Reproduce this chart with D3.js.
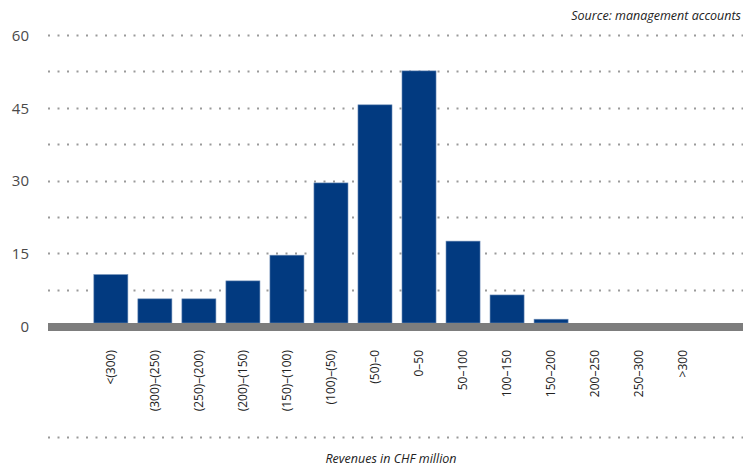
<!DOCTYPE html>
<html><head><meta charset="utf-8">
<script src="https://cdn.jsdelivr.net/npm/d3@7"></script>
<style>
body{margin:0;background:#fff;}
svg{display:block;}
</style></head>
<body>
<svg id="c" width="743" height="471"></svg>
<script>
const categories = ["<(300)","(300)–(250)","(250)–(200)","(200)–(150)","(150)–(100)","(100)–(50)","(50)–0","0–50","50–100","100–150","150–200","200–250","250–300",">300"];
const values = [10.6, 5.6, 5.6, 9.3, 14.6, 29.5, 45.6, 52.6, 17.5, 6.4, 1.4, 0, 0, 0];
const yTicks = [0, 15, 30, 45, 60];
const gridTicks = [7.5, 15, 22.5, 30, 37.5, 45, 52.5, 60];

const svg = d3.select("#c");
const font = "'Liberation Sans Narrow','Open Sans',sans-serif";

const x = d3.scaleBand().domain(categories).range([89, 705]).paddingInner(0.227).paddingOuter(0.11);
const y = d3.scaleLinear().domain([0, 60]).range([326, 35]);

// dotted gridlines
const dotted = (yy) => svg.append("line").attr("x1", 48).attr("x2", 743).attr("y1", yy).attr("y2", yy)
  .attr("stroke", "#9a9a9a").attr("stroke-width", 2).attr("stroke-dasharray", "2,7.5");
gridTicks.forEach(t => dotted(Math.round(y(t)) + 0.5));
dotted(437.5);

// bars
svg.selectAll("rect.bar").data(values).join("rect").attr("class", "bar")
  .attr("x", (d, i) => x(categories[i]))
  .attr("width", x.bandwidth())
  .attr("y", d => y(d))
  .attr("height", d => Math.max(0, y(0) - 3 - y(d)))
  .attr("fill", "#023a80")
  .attr("stroke", "#6d8cb6").attr("stroke-width", d => d > 0 ? 0.6 : 0);

// baseline
svg.append("rect").attr("x", 48).attr("width", 695).attr("y", y(0) - 3).attr("height", 8).attr("fill", "#7d7d7d");

// y labels
const yAxis = d3.axisLeft(y).tickValues(yTicks).tickSize(0).tickPadding(0).tickFormat(d3.format("d"));
const ya = svg.append("g").attr("transform", "translate(29,0)").call(yAxis);
ya.select(".domain").remove();
ya.selectAll("text").attr("font-family", font).attr("font-size", 15).attr("fill", "#4a4a4a").attr("dy", "0.35em");

// x labels
const xAxis = d3.axisBottom(x).tickSize(0).tickPadding(0);
const xa = svg.append("g").attr("transform", "translate(0,350)").call(xAxis);
xa.select(".domain").remove();
xa.selectAll("text").attr("font-family", font).attr("font-size", 12).attr("fill", "#222")
  .attr("transform", "rotate(-90)").attr("text-anchor", "end").attr("x", 0).attr("y", 0).attr("dy", "0.35em");

// source
svg.append("text").attr("x", 741).attr("y", 20).attr("text-anchor", "end")
  .attr("font-family", font).attr("font-style", "italic").attr("font-size", 12.5).attr("fill", "#222")
  .text("Source: management accounts");

// axis title
svg.append("text").attr("x", 391).attr("y", 463).attr("text-anchor", "middle")
  .attr("font-family", font).attr("font-style", "italic").attr("font-size", 12.5).attr("fill", "#222")
  .text("Revenues in CHF million");
</script>
</body></html>
